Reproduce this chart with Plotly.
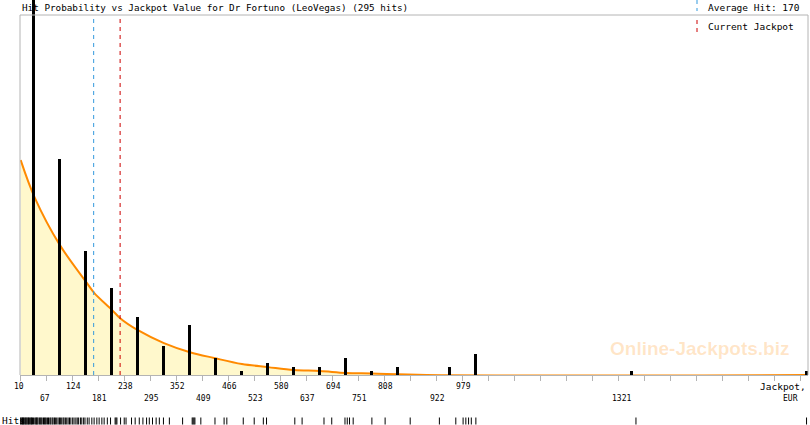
## Hit probability vs jackpot value

import plotly.graph_objects as go

# bins of 57 EUR starting at 10, values are bin centres
bin_centres = [38.5, 95.5, 152.5, 209.5, 266.5, 323.5, 380.5, 437.5, 494.5, 551.5,
               608.5, 665.5, 722.5, 779.5, 836.5, 950.5, 1007.5, 1349.5, 1733]
bin_hits = [131, 52, 30, 21, 14, 7, 12, 4, 1, 3, 2, 2, 4, 1, 2, 2, 5, 1, 1]

# fitted curve (hits per bin)
curve_x = [10, 41, 96, 155, 171, 210, 228, 267, 324, 381, 434, 495, 552, 609, 666, 723, 780, 900, 1736]
curve_y = [51.8, 42.7, 31.3, 22.2, 19.8, 15.7, 13.7, 10.8, 7.7, 5.5, 4.1, 2.65, 1.9, 1.2, 0.96, 0.5, 0.35, 0, 0]

# single hits for the rug at the bottom
hits = [10, 11, 13, 14, 16, 17, 19, 21, 22, 24, 26, 27, 29, 31, 33, 34, 36, 38, 41, 43, 45, 46,
        48, 51, 53, 55, 57, 60, 62, 64, 66, 69, 71, 74, 76, 79, 81, 84, 86, 89, 92, 95, 97, 100,
        103, 105, 108, 111, 114, 117, 120, 124, 127, 131, 134, 137, 141, 144, 148, 151,
        156, 160, 166, 171, 177, 182, 188, 193, 200, 207, 217, 219, 221, 229, 237, 241, 253,
        261, 270, 278, 286, 292, 299, 307, 314, 323, 336, 365, 386, 388, 390, 392, 405, 436,
        456, 462, 498, 522, 542, 549, 611, 627, 675, 692, 721, 726, 731, 739, 780, 809, 864,
        928, 964, 980, 986, 992, 998, 1008, 1359, 1733]

row1_ticks = [10, 124, 238, 352, 466, 580, 694, 808, 979]
row2_ticks = [67, 181, 295, 409, 523, 637, 751, 922, 1321]

average_hit = 170
current_jackpot = 228
title = "Hit Probability vs Jackpot Value for Dr Fortuno (LeoVegas) (295 hits)"

W, H = 810, 425
L, R = 20, 2
PX = 4.15          # pixels per hit
BASE = 375         # baseline in pixels from the top
TOP = 15           # top of the frame

def py(p):
    # pixel row -> paper y
    return (H - p) / H

def px(p):
    # pixel column -> paper x
    return (p - L) / (W - L - R)

mono = "DejaVu Sans Mono"
grey = "#b4b4b4"

fig = go.Figure()

fig.add_trace(go.Scatter(x=curve_x, y=curve_y, mode="lines", line_shape="spline",
                         line=dict(color="#ff8a00", width=2),
                         fill="tozeroy", fillcolor="#fff8cc", hoverinfo="none"))

# bars sit on an overlaying axis so they are drawn over the filled curve
fig.add_trace(go.Bar(x=bin_centres, y=bin_hits, width=6.6, marker_color="black",
                     marker_line_width=0, yaxis="y3", hoverinfo="none"))

fig.add_trace(go.Scatter(x=hits, y=[0.5] * len(hits), yaxis="y2", mode="markers",
                         marker=dict(symbol="line-ns-open", size=5, color="black",
                                     line=dict(width=1, color="black")),
                         cliponaxis=False, hoverinfo="none"))

shapes = [
    # frame: left, top, right
    dict(type="line", xref="paper", yref="paper", x0=0, x1=0, y0=py(BASE), y1=py(TOP),
         line=dict(color=grey, width=1)),
    dict(type="line", xref="paper", yref="paper", x0=0, x1=1, y0=py(TOP), y1=py(TOP),
         line=dict(color=grey, width=1)),
    dict(type="line", xref="paper", yref="paper", x0=1, x1=1, y0=py(BASE), y1=py(TOP),
         line=dict(color=grey, width=1)),
    # average and current jackpot markers
    dict(type="line", xref="x", yref="paper", x0=average_hit, x1=average_hit,
         y0=py(BASE), y1=py(TOP), line=dict(color="#3399dd", width=1, dash="4px,4px")),
    dict(type="line", xref="x", yref="paper", x0=current_jackpot, x1=current_jackpot,
         y0=py(BASE), y1=py(TOP), line=dict(color="#cc0000", width=1, dash="4px,4px")),
    # legend keys
    dict(type="line", xref="paper", yref="paper", x0=px(697), x1=px(697), y0=py(0), y1=py(11),
         line=dict(color="#3399dd", width=1, dash="4px,4px")),
    dict(type="line", xref="paper", yref="paper", x0=px(697), x1=px(697), y0=py(20), y1=py(33),
         line=dict(color="#cc0000", width=1, dash="4px,4px")),
]

annotations = [
    dict(text=title, x=0, y=py(7.5), xref="paper", yref="paper", xanchor="left",
         yanchor="middle", showarrow=False, font=dict(family=mono, size=9.3, color="black")),
    dict(text="Average Hit: " + str(average_hit), x=px(706), y=py(7.5), xref="paper", yref="paper",
         xanchor="left", yanchor="middle", showarrow=False,
         font=dict(family=mono, size=9.5, color="black")),
    dict(text="Current Jackpot", x=px(706), y=py(27), xref="paper", yref="paper",
         xanchor="left", yanchor="middle", showarrow=False,
         font=dict(family=mono, size=9.5, color="black")),
    dict(text="Online-Jackpots.biz", x=px(699), y=py(348), xref="paper", yref="paper",
         xanchor="center", yanchor="middle", showarrow=False,
         font=dict(family="Liberation Sans", size=19, weight="bold",
                   color="rgba(255,140,0,0.22)")),
    dict(text="Jackpot,", x=1, y=py(386), xref="paper", yref="paper", xanchor="right",
         yanchor="middle", showarrow=False, font=dict(family=mono, size=9.5, color="black")),
    dict(text="EUR", x=px(790), y=py(398), xref="paper", yref="paper", xanchor="center",
         yanchor="middle", showarrow=False, font=dict(family=mono, size=8, color="black")),
    dict(text="Hits", x=px(0), y=py(420.5), xref="paper", yref="paper", xanchor="left",
         yanchor="middle", showarrow=False, font=dict(family=mono, size=9.5, color="black")),
]
for t in row1_ticks:
    annotations.append(dict(text=str(t), x=t, y=py(386), xref="x", yref="paper",
                            xanchor="left", xshift=-9, yanchor="middle", showarrow=False,
                            font=dict(family=mono, size=8, color="black")))
for t in row2_ticks:
    annotations.append(dict(text=str(t), x=t, y=py(398), xref="x", yref="paper",
                            xanchor="left", xshift=-9, yanchor="middle", showarrow=False,
                            font=dict(family=mono, size=8, color="black")))

fig.update_layout(
    width=W, height=H,
    margin=dict(l=L, r=R, t=0, b=0),
    paper_bgcolor="white", plot_bgcolor="white",
    showlegend=False,
    bargap=0,
    xaxis=dict(range=[8.5, 8.5 + (W - L - R) / 0.4561], tick0=10, dtick=57,
               showticklabels=False, ticks="outside", ticklen=5, tickcolor=grey,
               showline=True, linecolor=grey, linewidth=1, showgrid=False, zeroline=False,
               anchor="y", fixedrange=True),
    yaxis=dict(domain=[py(BASE), 1], range=[0, BASE / PX], visible=False, fixedrange=True),
    yaxis2=dict(domain=[0, py(417)], range=[0, 1], visible=False, anchor="x", fixedrange=True),
    yaxis3=dict(overlaying="y", range=[0, BASE / PX], visible=False, anchor="x", fixedrange=True),
    shapes=shapes,
    annotations=annotations,
)

# the page's default body margin would push the chart 8px down and right
fig.write_html("out.html", config={"displayModeBar": False},
               post_script="document.body.style.margin='0';")
